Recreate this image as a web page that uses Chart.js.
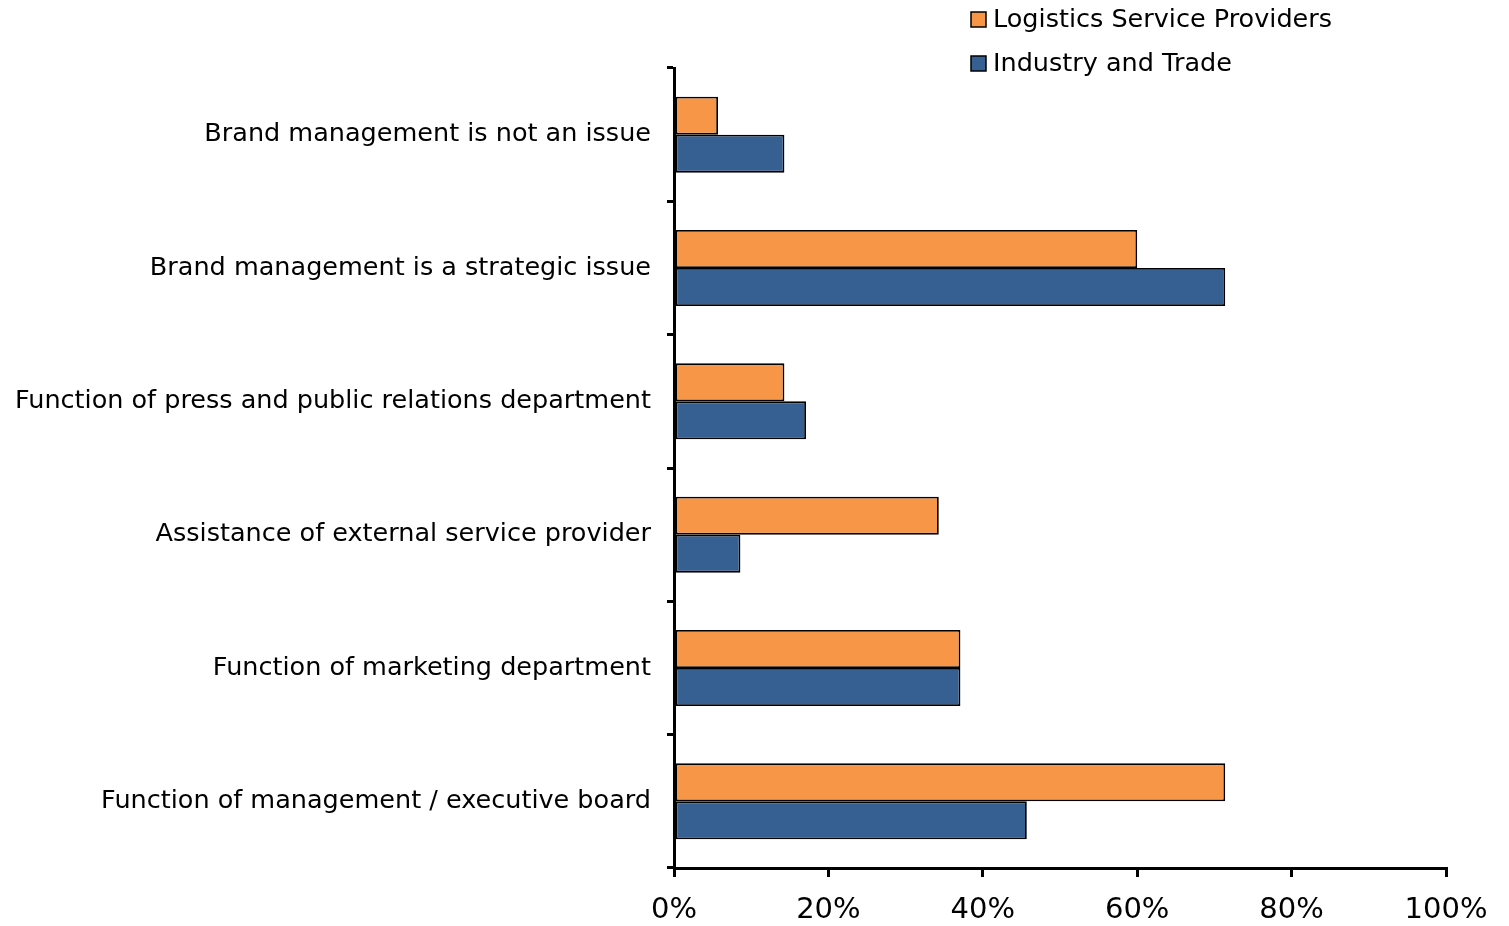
<!DOCTYPE html>
<html>
<head>
<meta charset="utf-8">
<script src="https://cdn.jsdelivr.net/npm/chart.js@4/dist/chart.umd.min.js"></script>
<style>
	html, body { margin: 0; padding: 0; background: #fff; }
	#wrap { width: 1509px; height: 926px; position: relative; }
</style>
</head>
<body>
<div id="wrap"><canvas id="brandChart"></canvas></div>
<script>
const categories = [
	"Brand management is not an issue",
	"Brand management is a strategic issue",
	"Function of press and public relations department",
	"Assistance of external service provider",
	"Function of marketing department",
	"Function of management / executive board",
];
const logisticsValues = [5.7, 60.0, 14.3, 34.3, 37.1, 71.4];
const industryValues = [14.3, 71.4, 17.1, 8.6, 37.1, 45.7];
const xTicks = [0, 20, 40, 60, 80, 100];

const fontFamily = "'DejaVu Sans', Verdana, sans-serif";

// legend drawn by hand: two rows, top right
const stackedLegend = {
	id: "stackedLegend",
	afterDraw(chart) {
		const ctx = chart.ctx;
		ctx.save();
		ctx.font = "25.5px " + fontFamily;
		ctx.textBaseline = "middle";
		ctx.textAlign = "left";
		chart.data.datasets.forEach(function (ds, i) {
			let y = 20 + i * 44;
			ctx.fillStyle = ds.backgroundColor;
			ctx.fillRect(971, y - 8, 15, 15);
			ctx.strokeStyle = "#000";
			ctx.lineWidth = 1.5;
			ctx.strokeRect(971, y - 8, 15, 15);
			ctx.fillStyle = "#000";
			ctx.fillText(ds.label, 993, y);
		});
		ctx.restore();
	},
};

var brandChart = new Chart(document.getElementById("brandChart"), {
	type: "bar",
	data: {
		labels: categories,
		datasets: [
			{
				label: "Logistics Service Providers",
				data: logisticsValues,
				backgroundColor: "#F79646",
				borderColor: "#000",
				borderWidth: 1.8,
				borderSkipped: false,
			},
			{
				label: "Industry and Trade",
				data: industryValues,
				backgroundColor: "#366092",
				borderColor: "#000",
				borderWidth: 1.8,
				borderSkipped: false,
			},
		],
	},
	options: {
		indexAxis: "y",
		responsive: true,
		maintainAspectRatio: false,
		animation: false,
		categoryPercentage: 0.57,
		barPercentage: 1,
		layout: {
			padding: { top: 68, right: 63, bottom: 0, left: 0 },
		},
		scales: {
			x: {
				min: 0,
				max: 100,
				afterBuildTicks: function (scale) {
					scale.ticks = xTicks.map(function (v) { return { value: v }; });
				},
				afterFit: function (scale) {
					scale.height = 58;
				},
				border: { display: true, color: "#000", width: 3 },
				grid: {
					drawOnChartArea: false,
					drawTicks: true,
					tickLength: 9,
					color: "#000",
					lineWidth: 3,
				},
				ticks: {
					color: "#000",
					padding: 16,
					maxRotation: 0,
					font: { family: fontFamily, size: 29 },
					callback: function (value) {
						return value + "%";
					},
				},
			},
			y: {
				afterFit: function (scale) {
					scale.width = 674;
				},
				border: { display: true, color: "#000", width: 3 },
				grid: {
					offset: true,
					drawOnChartArea: false,
					drawTicks: true,
					tickLength: 7,
					color: "#000",
					lineWidth: 3,
				},
				ticks: {
					color: "#000",
					padding: 16,
					font: { family: fontFamily, size: 25.5 },
				},
			},
		},
		plugins: {
			legend: { display: false },
			tooltip: { enabled: false },
		},
	},
	plugins: [stackedLegend],
});
</script>
</body>
</html>
